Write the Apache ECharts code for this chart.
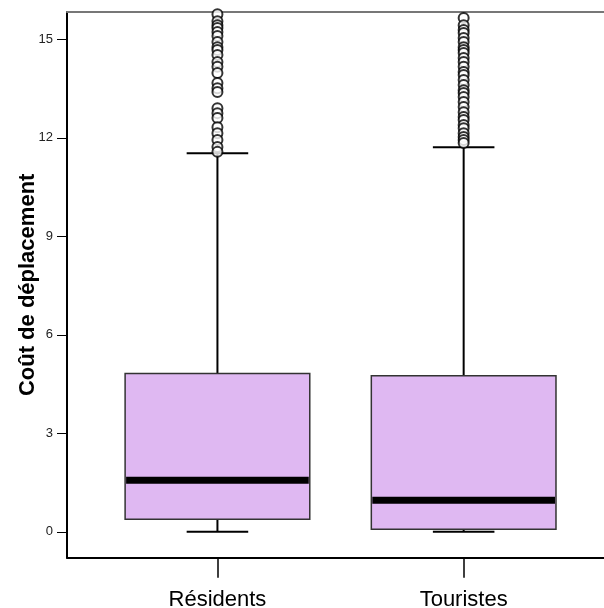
<!DOCTYPE html>
<html><head><meta charset="utf-8">
<script src="https://cdn.jsdelivr.net/npm/echarts@6/dist/echarts.min.js"></script>
<style>html,body{margin:0;padding:0;background:#fff}#c{width:604px;height:608px}</style>
</head><body><div id="c"></div>
<script>
const categories = ['Résidents', 'Touristes'];
const categoryPos = [1, 2];
const whiskerLow = [0.0, 0.0];
const q1 = [0.38, 0.08];
const median = [1.57, 0.96];
const q3 = [4.82, 4.75];
const whiskerHigh = [11.53, 11.71];
const outliersResidents = [15.76, 15.55, 15.43, 15.34, 15.22, 15.10, 14.92, 14.76, 14.67, 14.52, 14.31, 14.16, 13.97, 13.67, 13.51, 13.39, 12.90, 12.75, 12.60, 12.32, 12.14, 11.93, 11.72, 11.57];
const outliersTouristes = [15.65, 15.43, 15.28, 15.19, 15.04, 14.92, 14.76, 14.67, 14.58, 14.43, 14.31, 14.16, 14.00, 13.91, 13.76, 13.61, 13.45, 13.36, 13.24, 13.09, 12.94, 12.78, 12.63, 12.54, 12.39, 12.29, 12.14, 12.02, 11.93, 11.84];
const yTicks = [0, 3, 6, 9, 12, 15];
const yTitle = 'Coût de déplacement';

const Y_MIN = -0.79, Y_MAX = 15.83;
const X_MIN = 0.389, X_MAX = 2.57;
const FONT = '"Liberation Sans", Arial, sans-serif';

const boxData = categories.map((c, i) => [categoryPos[i], whiskerLow[i], q1[i], median[i], q3[i], whiskerHigh[i]]);
const outlierData = [];
outliersResidents.forEach(v => outlierData.push([categoryPos[0], v]));
outliersTouristes.forEach(v => outlierData.push([categoryPos[1], v]));

function renderBox(params, api) {
  const c = api.value(0);
  const lo = api.coord([c, api.value(1)]);
  const b1 = api.coord([c, api.value(2)]);
  const md = api.coord([c, api.value(3)]);
  const b3 = api.coord([c, api.value(4)]);
  const hi = api.coord([c, api.value(5)]);
  const band = api.size([1, 0])[0];
  const bw = band * 0.75, cw = band * 0.25;
  const x = lo[0];
  const ls = { stroke: '#000', lineWidth: 2 };
  return {
    type: 'group',
    children: [
      { type: 'line', shape: { x1: x, y1: hi[1], x2: x, y2: b3[1] }, style: ls },
      { type: 'line', shape: { x1: x, y1: b1[1], x2: x, y2: lo[1] }, style: ls },
      { type: 'line', shape: { x1: x - cw / 2, y1: hi[1], x2: x + cw / 2, y2: hi[1] }, style: ls },
      { type: 'line', shape: { x1: x - cw / 2, y1: lo[1], x2: x + cw / 2, y2: lo[1] }, style: ls },
      { type: 'rect', shape: { x: x - bw / 2, y: b3[1], width: bw, height: b1[1] - b3[1] }, style: { fill: '#dfb8f2', stroke: '#333', lineWidth: 1.5 } },
      { type: 'line', shape: { x1: x - bw / 2 + 1, y1: md[1], x2: x + bw / 2 - 1, y2: md[1] }, style: { stroke: '#000', lineWidth: 7 } }
    ]
  };
}

const chart = echarts.init(document.getElementById('c'), null, { renderer: 'canvas' });
chart.setOption({
  animation: false,
  backgroundColor: '#fff',
  grid: { left: 67, right: 0, top: 12, bottom: 50.3, containLabel: false, outerBoundsMode: 'none' },
  xAxis: [
    {
      type: 'value', min: X_MIN, max: X_MAX, position: 'bottom',
      axisLine: { show: true, onZero: false, lineStyle: { color: '#000', width: 2 } },
      axisTick: { show: true, customValues: categoryPos, length: 20, lineStyle: { color: '#000', width: 1.5 } },
      axisLabel: {
        customValues: categoryPos, fontFamily: FONT, fontSize: 22, color: '#000', margin: 31,
        formatter: v => categories[categoryPos.indexOf(Math.round(v))] || ''
      },
      splitLine: { show: false }
    },
    {
      type: 'value', min: X_MIN, max: X_MAX, position: 'top',
      axisLine: { show: true, onZero: false, lineStyle: { color: '#777', width: 2 } },
      axisTick: { show: false }, axisLabel: { show: false }, splitLine: { show: false }
    }
  ],
  yAxis: {
    type: 'value', min: Y_MIN, max: Y_MAX,
    name: yTitle, nameLocation: 'middle', nameGap: 28, nameMoveOverlap: false,
    nameTextStyle: { fontFamily: FONT, fontSize: 22, fontWeight: 'bold', color: '#000' },
    axisLine: { show: true, onZero: false, lineStyle: { color: '#000', width: 2 } },
    axisTick: { show: true, length: 10, customValues: yTicks, lineStyle: { color: '#000', width: 1 } },
    axisLabel: { customValues: yTicks, fontFamily: FONT, fontSize: 13, color: '#222', margin: 14 },
    splitLine: { show: false }
  },
  series: [
    {
      type: 'custom', xAxisIndex: 0, data: boxData,
      encode: { x: 0, y: [1, 2, 3, 4, 5] },
      renderItem: renderBox, clip: false, z: 2
    },
    {
      type: 'scatter', xAxisIndex: 0, data: outlierData,
      symbol: 'emptyCircle', symbolSize: 10,
      itemStyle: { color: '#000', borderColor: '#000', borderWidth: 2 },
      clip: false, z: 3
    }
  ]
});
</script>
</body></html>
